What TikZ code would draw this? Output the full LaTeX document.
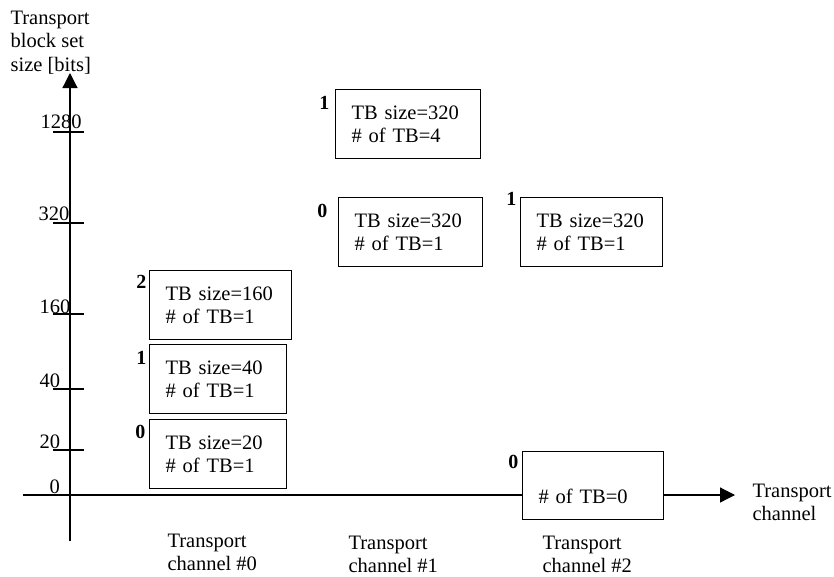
\documentclass[tikz,border=0pt]{standalone}
\usepackage{fontspec}
\setmainfont{Liberation Serif}
\usetikzlibrary{arrows.meta}
\tikzset{>={Triangle[length=15pt,width=15pt]}}

\begin{document}
\begin{tikzpicture}[x=1pt, y=-1pt, line width=1.2pt,
  txt/.style={font=\fontsize{20.5}{23.5}\selectfont, inner sep=0pt},
  tbbox/.style={txt, draw, fill=white, anchor=north west, align=left,
    inner xsep=16pt, inner ysep=0pt, minimum height=69pt, text width=#1},
  lvl/.style={font=\bfseries\fontsize{20}{22}\selectfont, inner sep=0pt, anchor=base east},
  ticklab/.style={txt, anchor=base west}]
\useasboundingbox (0,0) rectangle (834,576);
% axes
\coordinate (yfoot) at (70,541);
\coordinate (ytip) at (70,73);
\coordinate (xfoot) at (23,495);
\coordinate (xtip) at (735,495);
\draw[->] (yfoot) -- (ytip);
\draw[->] (xfoot) -- (xtip);
\node[txt, anchor=north west, align=left] (ytitle) at (10,10) {Transport\\block set\\size [bits]};
\node[txt, anchor=north west, align=left] (xtitle) at (752,483) {Transport\\channel};
% ticks on the size axis
\foreach \yy/\lab/\lx/\ly in {132/1280/40/128, 223/320/38/220, 314/160/39/313, 389/40/39/387, 450/20/39/448}{
  \draw (53,\yy) -- (84,\yy);
  \node[ticklab] (t\lab) at (\lx,\ly) {\lab};
}
\node[ticklab] (t0) at (49,493) {0};
% transport channel #0
\node[tbbox=105pt] (b00) at (149,419) {TB size=20\\\# of TB=1};
\node[tbbox=105pt] (b01) at (149,344) {TB size=40\\\# of TB=1};
\node[tbbox=110pt] (b02) at (149,270) {TB size=160\\\# of TB=1};
\node[lvl] (l00) at (146,438) {0};
\node[lvl] (l01) at (147,364) {1};
\node[lvl] (l02) at (147,288) {2};
% transport channel #1
\node[tbbox=112pt] (b10) at (338,197) {TB size=320\\\# of TB=1};
\node[tbbox=113pt] (b11) at (335,89) {TB size=320\\\# of TB=4};
\node[lvl] (l10) at (328,217) {0};
\node[lvl] (l11) at (330,109) {1};
% transport channel #2
\node[tbbox=109pt, minimum height=68pt] (b20) at (522,451) {\vphantom{TB}\\\# of TB=0};
\node[tbbox=110pt] (b21) at (520,197) {TB size=320\\\# of TB=1};
\node[lvl] (l20) at (519,468) {0};
\node[lvl] (l21) at (517,205) {1};
% channel names
\node[txt, anchor=north west, align=left] (ch0) at (167,533) {Transport\\channel \#0};
\node[txt, anchor=north west, align=left] (ch1) at (348,535) {Transport\\channel \#1};
\node[txt, anchor=north west, align=left] (ch2) at (542,535) {Transport\\channel \#2};
\end{tikzpicture}
\end{document}
